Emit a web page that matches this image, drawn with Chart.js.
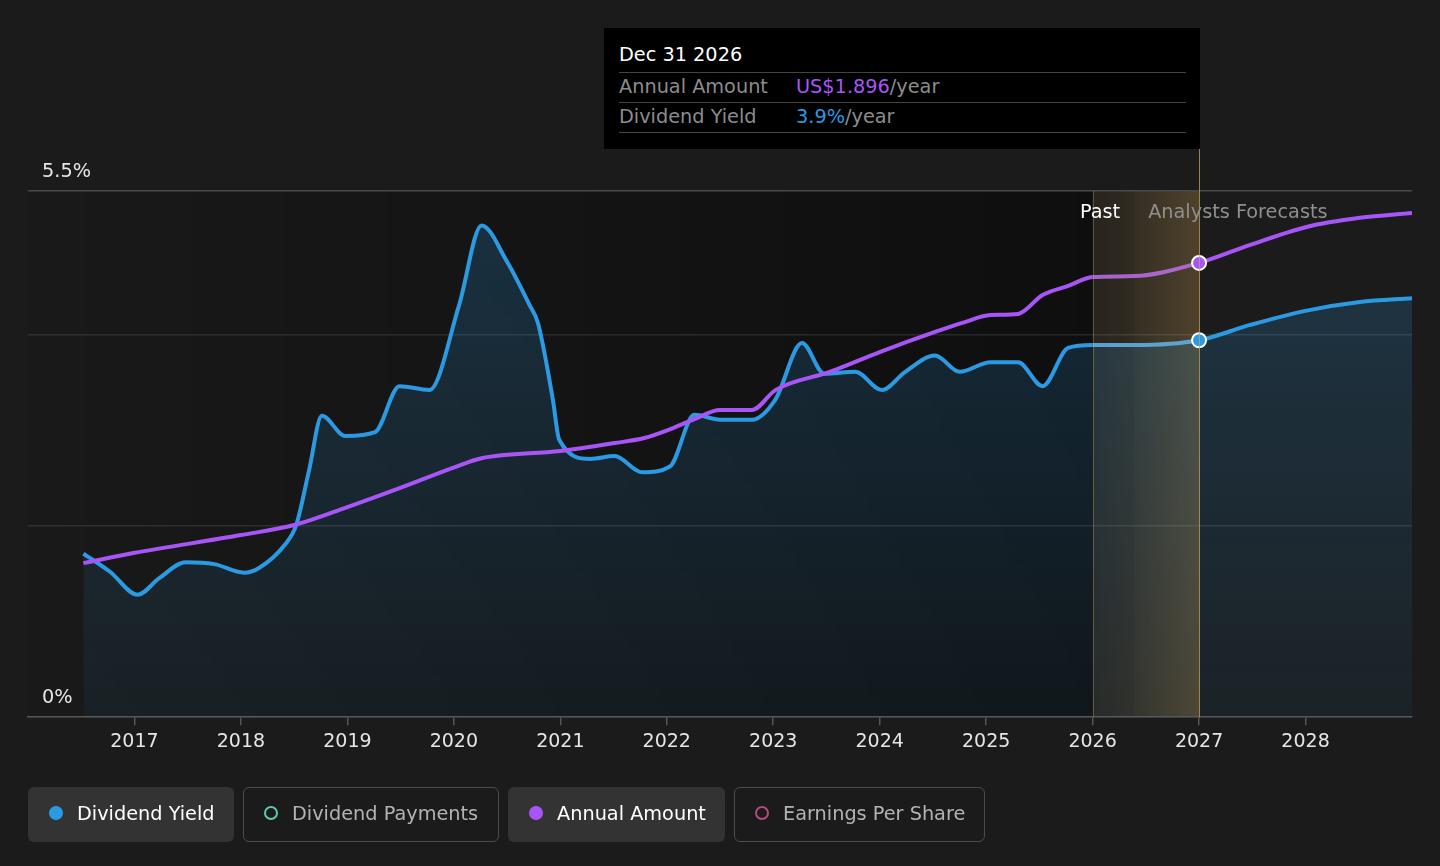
<!DOCTYPE html>
<html>
<head>
<meta charset="utf-8">
<script src="https://cdn.jsdelivr.net/npm/chart.js@4.4.1/dist/chart.umd.min.js"></script>
<style>
  html, body { margin: 0; padding: 0; background: #1b1b1b; }
  body { width: 1440px; height: 866px; overflow: hidden; font-family: "DejaVu Sans", sans-serif; }
  #wrap { position: relative; width: 1440px; height: 866px; }
  #chart { position: absolute; left: 0; top: 0; }
  #tip { position: absolute; top: 28px; width: 596px; height: 121px; background: #000; box-sizing: border-box; padding: 0 14px 0 15px; }
  #tip .title { color: #fff; font-size: 19.3px; height: 44px; line-height: 54px; border-bottom: 1.5px solid #444; }
  #tip .row { height: 29px; line-height: 27px; font-size: 19.3px; color: #8c8c8c; border-bottom: 1.5px solid #444; }
  #tip .row .lbl { display: inline-block; width: 177px; }
  #tip .row .unit { color: #8c8c8c; }
  #legend { position: absolute; left: 28px; top: 787px; display: flex; }
  .item { height: 55px; box-sizing: border-box; border-radius: 6px; display: flex; align-items: center; padding-left: 21px; padding-bottom: 3px; font-size: 19.3px; margin-right: 9px; }
  .item.on { background: #333; color: #fff; }
  .item.off { border: 1.5px solid #4c4c4c; color: #b3b3b3; padding-left: 20px; }
  .dot { width: 14px; height: 14px; border-radius: 50%; margin-right: 14px; box-sizing: border-box; }
</style>
</head>
<body>
<div id="wrap">
  <canvas id="chart" width="1440" height="866"></canvas>
  <div id="tip">
    <div class="title" id="tipTitle"></div>
    <div class="row"><span class="lbl">Annual Amount</span><span id="tipAmount" style="color:#a855f7"></span><span class="unit">/year</span></div>
    <div class="row"><span class="lbl">Dividend Yield</span><span id="tipYield" style="color:#2b9ae3"></span><span class="unit">/year</span></div>
  </div>
  <div id="legend">
    <div class="item on" style="width:206px"><span class="dot" style="background:#2b9ae3"></span>Dividend Yield</div>
    <div class="item off" style="width:256px"><span class="dot" style="border:2px solid #5cc8b0"></span>Dividend Payments</div>
    <div class="item on" style="width:217px"><span class="dot" style="background:#a855f7"></span>Annual Amount</div>
    <div class="item off" style="width:251px"><span class="dot" style="border:2px solid #b24a80"></span>Earnings Per Share</div>
  </div>
</div>
<script>
// dividend yield (%), x = decimal year
const yieldYears = [2016.52, 2016.77, 2017.03, 2017.23, 2017.48, 2017.75, 2018.03, 2018.17, 2018.41, 2018.52, 2018.64, 2018.76, 2018.98, 2019.26, 2019.49, 2019.77, 2020.05, 2020.26, 2020.50, 2020.71, 2020.79, 2020.93, 2020.99, 2021.28, 2021.51, 2021.77, 2022.03, 2022.26, 2022.50, 2022.80, 2023.02, 2023.27, 2023.48, 2023.77, 2024.02, 2024.24, 2024.52, 2024.75, 2025.04, 2025.30, 2025.53, 2025.77, 2026.00, 2026.39, 2027.00, 2027.48, 2028.01, 2028.51, 2029.00]
const yieldValues = [1.71, 1.52, 1.28, 1.45, 1.62, 1.60, 1.51, 1.56, 1.80, 2.01, 2.58, 3.15, 2.94, 2.98, 3.46, 3.42, 4.31, 5.14, 4.76, 4.31, 4.12, 3.32, 2.90, 2.70, 2.73, 2.56, 2.62, 3.16, 3.11, 3.11, 3.32, 3.91, 3.59, 3.61, 3.42, 3.61, 3.78, 3.61, 3.71, 3.71, 3.46, 3.86, 3.89, 3.89, 3.94, 4.10, 4.25, 4.34, 4.38]

// annual dividend amount (US$)
const amountYears = [2016.52, 2016.99, 2018.00, 2018.50, 2019.00, 2019.49, 2020.01, 2020.26, 2021.00, 2021.51, 2021.79, 2022.01, 2022.26, 2022.50, 2022.80, 2023.02, 2023.53, 2024.00, 2024.52, 2024.80, 2025.04, 2025.30, 2025.53, 2025.77, 2026.00, 2026.39, 2027.00, 2027.48, 2028.01, 2028.51, 2029.00]
const amountValues = [0.643, 0.685, 0.760, 0.802, 0.877, 0.956, 1.044, 1.081, 1.111, 1.144, 1.165, 1.198, 1.244, 1.282, 1.282, 1.365, 1.441, 1.524, 1.608, 1.649, 1.678, 1.683, 1.762, 1.800, 1.837, 1.841, 1.896, 1.971, 2.046, 2.084, 2.104]

const yearTicks = [2017, 2018, 2019, 2020, 2021, 2022, 2023, 2024, 2025, 2026, 2027, 2028]
const yTicks = [0, 2, 4, 5.5]
const yLabels = ['0%', '5.5%']
const pastEnd = 2026
const bandSplit = 2026.39
const tipYear = 2027
const tipDate = 'Dec 31 2026'

const blue = '#2b9ae3'
const purple = '#a855f7'
const txtFont = '19.3px "DejaVu Sans"'

const yieldPts = yieldYears.map((x, i) => ({x: x, y: yieldValues[i]}))
const amountPts = amountYears.map((x, i) => ({x: x, y: amountValues[i]}))

const inBand = c => c.p0.parsed.x >= pastEnd && c.p1.parsed.x <= tipYear

const bgPlugin = {
  id: 'bg',
  beforeDraw(chart) {
    const {ctx, chartArea: a, scales: {x}} = chart
    const xp = x.getPixelForValue(pastEnd)
    const xm = x.getPixelForValue(bandSplit)
    const xn = x.getPixelForValue(tipYear)
    ctx.save()
    // darker past region
    let g = ctx.createLinearGradient(a.left, 0, xp, 0)
    g.addColorStop(0, 'rgba(0,0,0,0.05)')
    g.addColorStop(1, 'rgba(0,0,0,0.45)')
    ctx.fillStyle = g
    ctx.fillRect(a.left, a.top, xp - a.left, a.bottom - a.top)
    // highlight band
    g = ctx.createLinearGradient(xp, 0, xm, 0)
    g.addColorStop(0, 'rgba(150,115,60,0.10)')
    g.addColorStop(1, 'rgba(150,115,60,0.18)')
    ctx.fillStyle = g
    ctx.fillRect(xp, a.top, xm - xp, a.bottom - a.top)
    g = ctx.createLinearGradient(xm, 0, xn, 0)
    g.addColorStop(0, 'rgba(190,150,80,0.16)')
    g.addColorStop(1, 'rgba(190,150,80,0.32)')
    ctx.fillStyle = g
    ctx.fillRect(xm, a.top, xn - xm, a.bottom - a.top)
    ctx.restore()
  },
  afterDatasetsDraw(chart) {
    const {ctx, chartArea: a, scales: {x, y}} = chart
    const xp = x.getPixelForValue(pastEnd)
    const xm = x.getPixelForValue(bandSplit)
    const xn = x.getPixelForValue(tipYear)
    ctx.save()
    ctx.lineWidth = 1
    ctx.strokeStyle = 'rgba(200,170,120,0.35)'
    ctx.beginPath(); ctx.moveTo(Math.round(xp) + 0.5, a.top); ctx.lineTo(Math.round(xp) + 0.5, a.bottom); ctx.stroke()
    ctx.strokeStyle = 'rgba(200,165,100,0.75)'
    ctx.beginPath(); ctx.moveTo(Math.round(xn) + 0.5, 149); ctx.lineTo(Math.round(xn) + 0.5, a.bottom); ctx.stroke()
    ctx.font = txtFont
    ctx.textBaseline = 'middle'
    ctx.textAlign = 'right'
    ctx.fillStyle = '#ffffff'
    ctx.fillText('Past', xm - 14, a.top + 22)
    ctx.textAlign = 'left'
    ctx.fillStyle = '#8f8f8f'
    ctx.fillText('Analysts Forecasts', xm + 14, a.top + 22)
    // y labels
    ctx.fillStyle = '#e6e6e6'
    ctx.textBaseline = 'bottom'
    ctx.fillText(yLabels[0], 42, y.getPixelForValue(0) - 10)
    ctx.fillText(yLabels[1], 42, y.getPixelForValue(5.5) - 9)
    ctx.restore()
    // tooltip box aligned to the 2027 line
    const tip = document.getElementById('tip')
    tip.style.left = (Math.round(xn) + 1 - 596) + 'px'
  }
}

const ctx = document.getElementById('chart')
new Chart(ctx, {
  type: 'line',
  data: {
    datasets: [
      {
        label: 'Annual Amount',
        data: amountPts,
        yAxisID: 'y2',
        borderColor: purple,
        borderWidth: 4,
        fill: false,
        cubicInterpolationMode: 'monotone',
        pointRadius: c => (c.raw && c.raw.x === tipYear) ? 7 : 0,
        pointBackgroundColor: purple,
        pointBorderColor: '#fff',
        pointBorderWidth: 2,
        segment: { borderColor: c => inBand(c) ? 'rgba(190,110,235,0.85)' : undefined }
      },
      {
        label: 'Dividend Yield',
        data: yieldPts,
        yAxisID: 'y',
        borderColor: blue,
        borderWidth: 4,
        fill: 'origin',
        backgroundColor: c => {
          const a = c.chart.chartArea
          if (!a) return 'rgba(43,154,227,0.12)'
          const g = c.chart.ctx.createLinearGradient(0, a.top, 0, a.bottom)
          g.addColorStop(0, 'rgba(43,154,227,0.22)')
          g.addColorStop(1, 'rgba(43,154,227,0.06)')
          return g
        },
        cubicInterpolationMode: 'monotone',
        pointRadius: c => (c.raw && c.raw.x === tipYear) ? 7 : 0,
        pointBackgroundColor: blue,
        pointBorderColor: '#fff',
        pointBorderWidth: 2,
        segment: { borderColor: c => inBand(c) ? 'rgba(95,175,225,0.9)' : undefined }
      }
    ]
  },
  options: {
    responsive: false,
    animation: false,
    devicePixelRatio: 1,
    layout: { padding: { left: 28, right: 28, top: 191, bottom: 108 } },
    plugins: { legend: { display: false }, tooltip: { enabled: false } },
    events: [],
    scales: {
      x: {
        type: 'linear',
        min: 2016,
        max: 2029,
        afterBuildTicks: s => { s.ticks = yearTicks.map(v => ({value: v})) },
        ticks: { color: '#e6e6e6', font: { family: 'DejaVu Sans', size: 19 }, padding: 5, callback: v => String(v), maxRotation: 0, autoSkip: false },
        grid: { drawOnChartArea: false, drawTicks: true, tickLength: 8, color: '#555', lineWidth: 1.5 },
        border: { display: true, color: '#555', width: 1.5 }
      },
      y: {
        min: 0,
        max: 5.5,
        afterBuildTicks: s => { s.ticks = yTicks.map(v => ({value: v})) },
        ticks: { display: false },
        grid: { drawTicks: false, color: c => c.tick && c.tick.value === 5.5 ? '#4a4a4a' : 'rgba(255,255,255,0.10)', lineWidth: 1.5 },
        border: { display: false }
      },
      y2: { display: false, min: 0, max: 2.196 }
    }
  },
  plugins: [bgPlugin]
})

document.getElementById('tipTitle').textContent = tipDate
const ai = amountYears.indexOf(tipYear)
const yi = yieldYears.indexOf(tipYear)
document.getElementById('tipAmount').textContent = 'US$' + amountValues[ai].toFixed(3)
document.getElementById('tipYield').textContent = yieldValues[yi].toFixed(1) + '%'
</script>
</body>
</html>
